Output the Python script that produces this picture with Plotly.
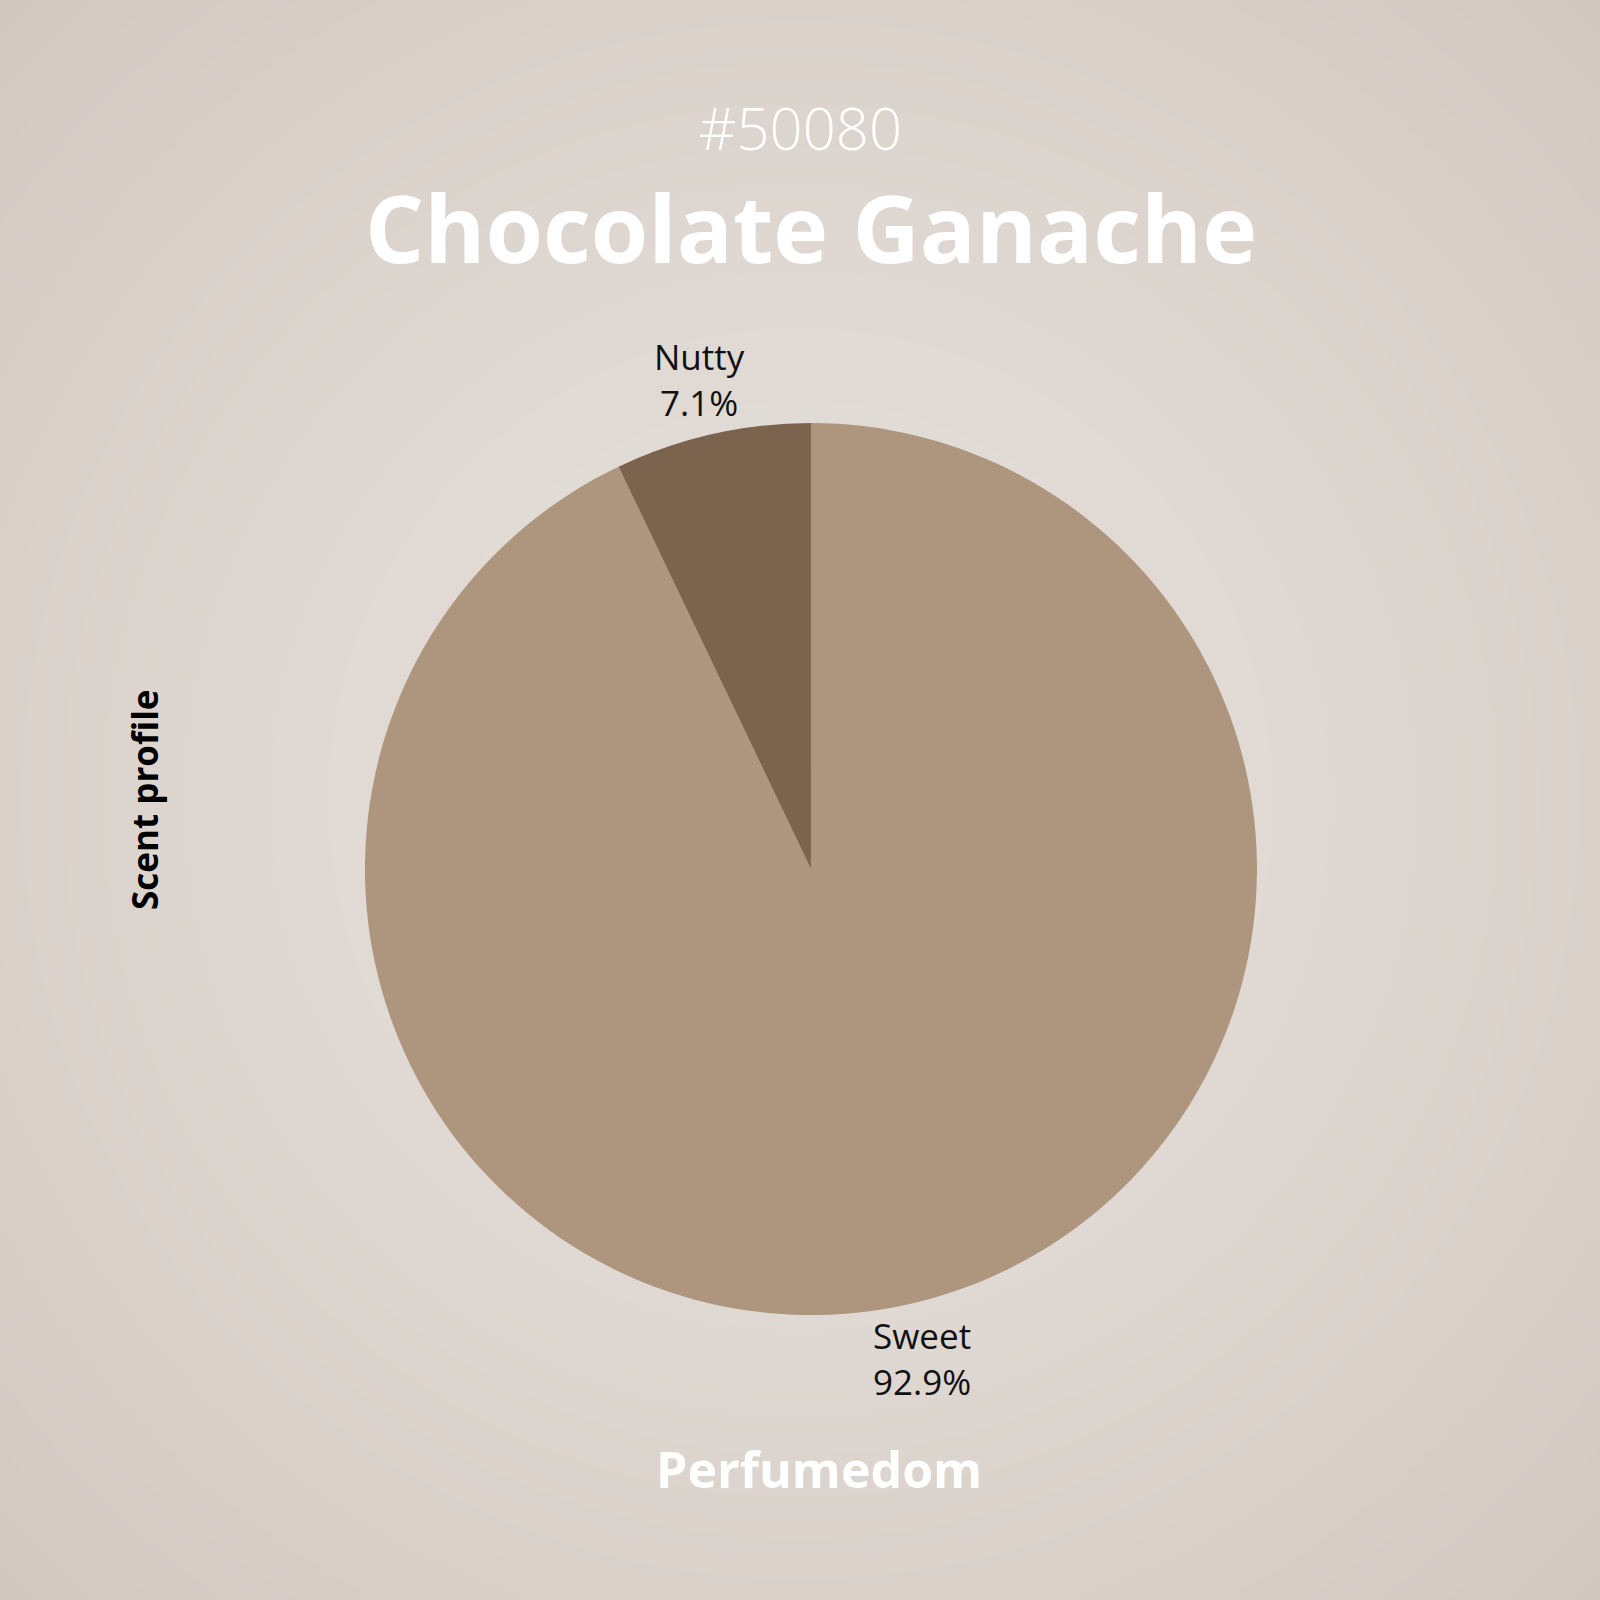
import numpy as np
import plotly.graph_objects as go

# scent profile of the perfume
labels = ["Sweet", "Nutty"]
values = [92.9, 7.1]
slice_colors = ["#ad967d", "#7b634d"]

perfume_id = "#50080"
perfume_name = "Chocolate Ganache"
brand = "Perfumedom"
side_label = "Scent profile"

# pie placement (paper coords)
pie_x = [0.2281, 0.7856]
pie_y = [0.1781, 0.7356]

# soft radial background, drawn as a smoothed heatmap behind the pie
n = 61
gx = np.linspace(0, 1, n)
gy = np.linspace(0, 1, n)
xx, yy = np.meshgrid(gx, gy)
dist = np.sqrt((xx - 0.5) ** 2 + (yy - 0.5) ** 2) / np.sqrt(0.5)

fig = go.Figure()

fig.add_trace(go.Heatmap(
    x=gx, y=gy, z=dist,
    zmin=0, zmax=1, zsmooth="best",
    colorscale=[[0, "#e5e0da"], [0.45, "#e0d9d3"], [0.707, "#d9d1ca"], [1, "#d1c8bf"]],
    showscale=False, hoverinfo="skip",
))

fig.add_trace(go.Pie(
    labels=labels,
    values=values,
    sort=False,
    direction="clockwise",
    rotation=0,
    marker=dict(colors=slice_colors, line=dict(width=0)),
    textinfo="none",
    domain=dict(x=pie_x, y=pie_y),
    showlegend=False,
))

# centred slice labels just outside the rim, at each slice's mid angle
cx = (pie_x[0] + pie_x[1]) / 2
cy = (pie_y[0] + pie_y[1]) / 2
r = (pie_x[1] - pie_x[0]) / 2 * 1.125
total = sum(values)
start = 0.0
label_notes = []
for lab, v in zip(labels, values):
    mid = np.deg2rad(360 * (start + v / 2) / total)
    start += v
    label_notes.append(dict(
        text=f"{lab}<br>{100 * v / total:.1f}%",
        x=cx + r * np.sin(mid), y=cy + r * np.cos(mid),
        xref="paper", yref="paper", showarrow=False,
        xanchor="center", yanchor="middle",
        font=dict(family="Open Sans", size=35, color="#111111"),
    ))

fig.update_layout(
    width=1600, height=1600,
    margin=dict(l=0, r=0, t=0, b=0),
    paper_bgcolor="#dcd5cf",
    plot_bgcolor="#dcd5cf",
    xaxis=dict(range=[0, 1], domain=[0, 1], visible=False, fixedrange=True),
    yaxis=dict(range=[0, 1], domain=[0, 1], visible=False, fixedrange=True),
    annotations=label_notes + [
        dict(text=perfume_id, x=0.5, y=0.92, xref="paper", yref="paper",
             showarrow=False, font=dict(family="Open Sans", size=58, color="white", weight=300),
             xanchor="center", yanchor="middle"),
        dict(text="<b>" + perfume_name + "</b>", x=0.507, y=0.858, xref="paper", yref="paper",
             showarrow=False, font=dict(family="Open Sans", size=93, color="white"),
             xanchor="center", yanchor="middle"),
        dict(text="<b>" + brand + "</b>", x=0.512, y=0.082, xref="paper", yref="paper",
             showarrow=False, font=dict(family="Open Sans", size=50, color="white"),
             xanchor="center", yanchor="middle"),
        dict(text="<b>" + side_label + "</b>", x=0.09, y=0.5, xref="paper", yref="paper",
             showarrow=False, textangle=-90,
             font=dict(family="Open Sans", size=35, color="black"),
             xanchor="center", yanchor="middle"),
    ],
)

fig.write_html("out.html", config={"displayModeBar": False},
               post_script="document.body.style.margin='0';")
